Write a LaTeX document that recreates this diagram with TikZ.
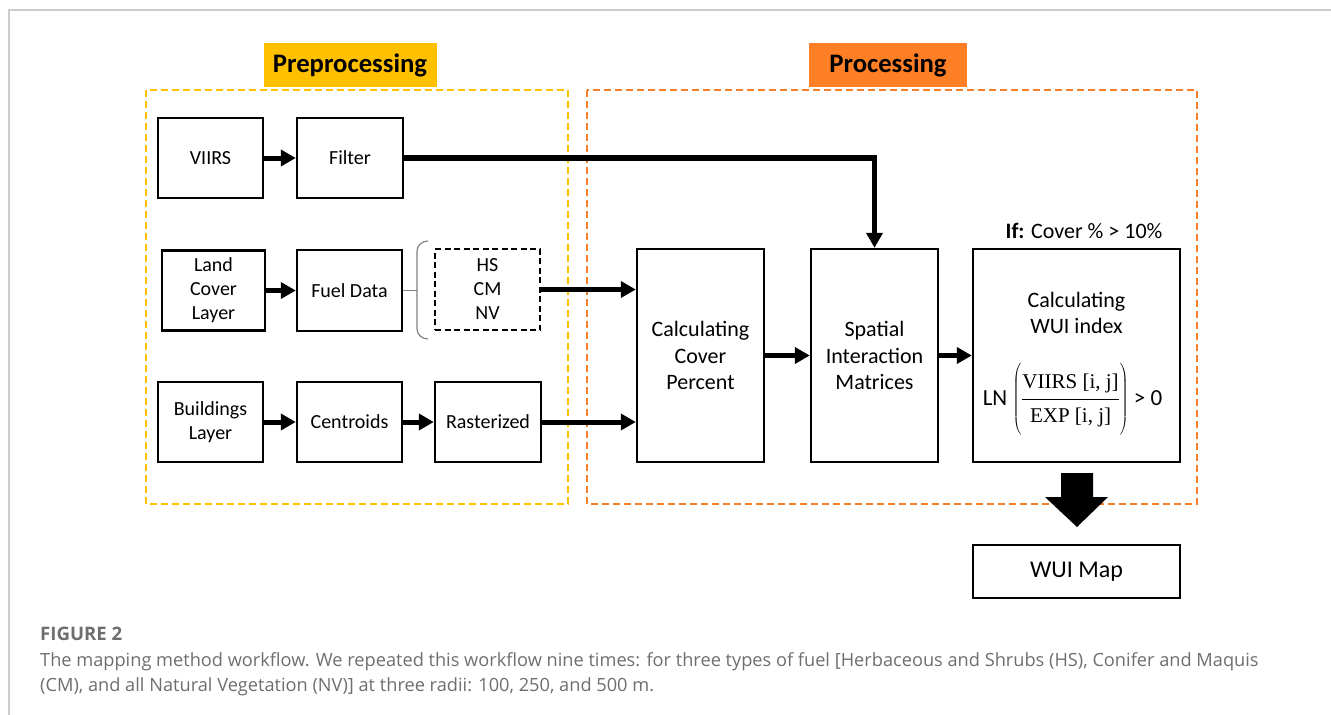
\documentclass[tikz,border=0pt]{standalone}
\usepackage{fontspec}
\setmainfont{Carlito}
\newfontfamily\capfont{Open Sans}
\newfontfamily\serifrm{Liberation Serif}
\usetikzlibrary{arrows.meta}
\definecolor{prey}{HTML}{FFC000}
\definecolor{proo}{HTML}{F57F2B}
\definecolor{prof}{HTML}{FF7F27}
\definecolor{capgray}{HTML}{6E6E6E}
\definecolor{framegray}{HTML}{CCCCCC}
\tikzset{
  box/.style={draw=black, line width=2.4pt, minimum width=#1, inner sep=0pt, align=center, font=\fontsize{20}{24}\selectfont},
  dbox/.style={box=#1, dash pattern=on 6pt off 3.5pt},
  conn/.style={line width=5pt, -{Triangle[length=15pt,width=16pt]}},
  titlebox/.style={inner sep=0pt, font=\bfseries\fontsize{26.7}{30}\selectfont},
}
\begin{document}
\begin{tikzpicture}[x=1pt,y=-1pt]
\useasboundingbox (0,0) rectangle (1331,715);
% frame
\draw[framegray, line width=2pt] (9,716) -- (9,10) -- (1332,10);
% group boxes
\draw[prey, line width=2.4pt, dash pattern=on 7pt off 4pt] (146,90) rectangle (568,504);
\draw[proo, line width=2.4pt, dash pattern=on 7pt off 4pt] (587,90) rectangle (1197,504);
\node[titlebox, fill=prey, minimum width=173pt, minimum height=44pt] (pre) at (350,65) {Preprocessing};
\node[titlebox, fill=prof, minimum width=158pt, minimum height=44pt] (pro) at (888,65) {Processing};
% boxes
\node[box=105pt, minimum height=80pt] (viirs) at (210.5,158) {VIIRS};
\node[box=106pt, minimum height=80pt] (filter) at (350,158) {Filter};
\node[box=103pt, minimum height=80pt] (land) at (213.5,290.5) {Land\\Cover\\Layer};
\node[box=105pt, minimum height=81pt] (fuel) at (349.5,290.5) {Fuel Data};
\node[dbox=105pt, minimum height=81pt] (hs) at (487.5,289.5) {HS\\CM\\NV};
\node[box=105pt, minimum height=80pt] (bld) at (210.5,422) {Buildings\\Layer};
\node[box=105pt, minimum height=80pt] (cen) at (349.5,422) {Centroids};
\node[box=106pt, minimum height=80pt] (ras) at (488,422) {Rasterized};
\node[box=127pt, minimum height=213pt, font=\fontsize{22}{26.5}\selectfont] (cov) at (700.5,355.5) {Calculating\\Cover\\Percent};
\node[box=127pt, minimum height=213pt, font=\fontsize{22}{26.5}\selectfont] (sim) at (874.5,355.5) {Spatial\\Interaction\\Matrices};
\node[box=207pt, minimum height=213pt] (wui) at (1076.5,355.5) {};
\node[align=center, font=\fontsize{22}{26}\selectfont] (wuit) at (1076.5,313) {Calculating\\WUI index};
\node[inner sep=0pt, font=\fontsize{23}{26}\selectfont] (form) at (1072.5,399)
  {LN \(\displaystyle\left(\vrule height 33pt depth 30pt width 0pt\frac{\mbox{\serifrm\fontsize{21}{24}\selectfont VIIRS [i, j]}}{\mbox{\serifrm\fontsize{21}{24}\selectfont EXP [i, j]}}\right)\) > 0};
\node[inner sep=0pt, font=\fontsize{22}{26}\selectfont] (cond) at (1084,231) {\textbf{If:} Cover \% > 10\%};
\node[box=207pt, minimum height=53pt, font=\fontsize{24}{28}\selectfont] (map) at (1076.5,571.5) {WUI Map};
% brace
\draw[gray, line width=1.2pt] (428,241) to[out=180,in=90] (417,251) -- (417,329) to[out=-90,in=180] (428,339);
\draw[gray, line width=1.2pt] (fuel.east) -- (417,290.5);
% connectors
\draw[conn] (viirs.east) -- (filter.west);
\draw[conn] (land.east) -- (fuel.west);
\draw[conn] (bld.east) -- (cen.west);
\draw[conn] (cen.east) -- (ras.west);
\draw[conn] (hs.east) -- (hs.east -| cov.west);
\draw[conn] (ras.east) -- (ras.east -| cov.west);
\draw[conn] (cov.east) -- (sim.west);
\draw[conn] (sim.east) -- (wui.west);
\draw[line width=5.5pt, -{Triangle[length=15pt,width=16pt]}] (filter.east) -- (filter.east -| sim.north) -- (sim.north);
% big arrow
\fill[black] (1061,473) -- (1093,473) -- (1093,497) -- (1108,497) -- (1077,527) -- (1045,497) -- (1061,497) -- cycle;
% caption
\node[anchor=west, inner sep=0pt, text=capgray, font=\capfont\bfseries\fontsize{18.6}{22}\selectfont] (fig) at (40,634) {FIGURE 2};
\node[anchor=north west, inner sep=0pt, text=capgray, align=left, font=\capfont\fontsize{18.2}{25.5}\selectfont] (cap) at (40,652)
  {The mapping method workflow. We repeated this workflow nine times: for three types of fuel [Herbaceous and Shrubs (HS), Conifer and Maquis\\(CM), and all Natural Vegetation (NV)] at three radii: 100, 250, and 500 m.};
\end{tikzpicture}
\end{document}
